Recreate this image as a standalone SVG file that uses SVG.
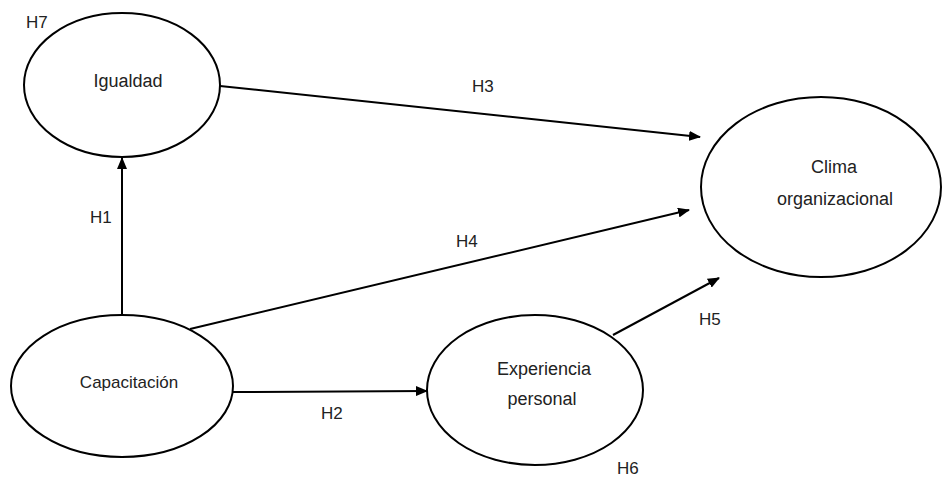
<svg xmlns="http://www.w3.org/2000/svg" width="942" height="479" viewBox="0 0 942 479">
<style>
.n{fill:#fff;stroke:#000;stroke-width:2}
.e{stroke:#000;stroke-width:2;fill:none;marker-end:url(#ah)}
text{font-family:"Liberation Sans",Arial,sans-serif;font-size:17px;fill:#222}
.t{font-size:18px;text-anchor:middle}
</style>
<defs>
<marker id="ah" markerWidth="12" markerHeight="10" refX="11" refY="5" orient="auto" markerUnits="userSpaceOnUse">
<path d="M0,0 L12,5 L0,10 z" fill="#000"/>
</marker>
</defs>
<rect width="942" height="479" fill="#fff"/>
<g id="connectors">
<line class="e" x1="122" y1="315" x2="122" y2="158"/>
<line class="e" x1="220" y1="86" x2="700" y2="137"/>
<line class="e" x1="190" y1="329" x2="689" y2="210"/>
<line class="e" x1="613" y1="335" x2="719" y2="278"/>
<line class="e" x1="233" y1="392" x2="427" y2="391"/>
</g>
<g id="igualdad"><ellipse class="n" cx="122" cy="85" rx="98" ry="72"/><text class="t" x="128" y="87">Igualdad</text></g>
<g id="capacitacion"><ellipse class="n" cx="122" cy="386" rx="111" ry="71"/><text class="t" x="129" y="388" style="font-size:17px">Capacitación</text></g>
<g id="experiencia"><ellipse class="n" cx="535" cy="390" rx="108" ry="75"/><text class="t" x="544" y="375">Experiencia</text><text class="t" x="542" y="405">personal</text></g>
<g id="clima"><ellipse class="n" cx="821" cy="187" rx="120" ry="90"/><text class="t" x="834" y="173">Clima</text><text class="t" x="835" y="205">organizacional</text></g>
<g id="labels">
<text x="26" y="28">H7</text>
<text x="472" y="92">H3</text>
<text x="90" y="223">H1</text>
<text x="456" y="247">H4</text>
<text x="699" y="325">H5</text>
<text x="321" y="419">H2</text>
<text x="617" y="474">H6</text>
</g>
</svg>
